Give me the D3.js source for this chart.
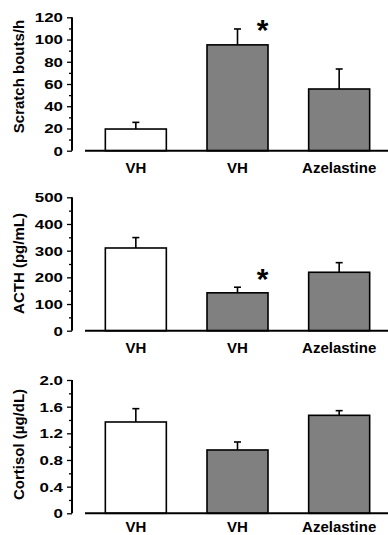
<!DOCTYPE html>
<html>
<head>
<meta charset="utf-8">
<script src="https://cdn.jsdelivr.net/npm/d3@7"></script>
<style>
  html, body { margin: 0; padding: 0; background: #fff; }
  svg { display: block; font-family: "Liberation Sans", Arial, Helvetica, sans-serif; font-weight: bold; }
</style>
</head>
<body>
<svg id="chart" width="388" height="535"></svg>
<script>
// ---- data ----
const categories = ["VH", "VH", "Azelastine"];
const barFills = ["#ffffff", "#808080", "#808080"];

const scratchMean = [19.5, 95.2, 55.5];
const scratchSEM  = [6.0, 14.3, 18.0];
const scratchTicks = [0, 20, 40, 60, 80, 100, 120];
const scratchMinor = [10, 30, 50, 70, 90, 110];

const acthMean = [310, 142, 219];
const acthSEM  = [39, 21, 36];
const acthTicks = [0, 100, 200, 300, 400, 500];
const acthMinor = [50, 150, 250, 350, 450];

const cortisolMean = [1.37, 0.95, 1.47];
const cortisolSEM  = [0.20, 0.12, 0.07];
const cortisolTicks = [0, 0.4, 0.8, 1.2, 1.6, 2.0];
const cortisolTickLabels = ["0", "0.4", "0.8", "1.2", "1.6", "2.0"];
const cortisolMinor = [0.2, 0.6, 1.0, 1.4, 1.8];

const scratchTitle = "Scratch bouts/h";
const acthTitle = "ACTH (pg/mL)";
const cortisolTitle = "Cortisol (\u00b5g/dL)";

const scratchSig = [false, true, false];
const acthSig = [false, true, false];
const cortisolSig = [false, false, false];

// ---- layout ----
const svg = d3.select("#chart");
const axisX = 72;

const panels = [
  { mean: scratchMean, sem: scratchSEM, ticks: scratchTicks, labels: scratchTicks.map(String), minor: scratchMinor,
    max: 120, top: 17.3, bottom: 150.7, title: scratchTitle, titleY: 76.5, sig: scratchSig, starY: 39.5, labelDy: 22.6 },
  { mean: acthMean, sem: acthSEM, ticks: acthTicks, labels: acthTicks.map(String), minor: acthMinor,
    max: 500, top: 197.3, bottom: 330.7, title: acthTitle, titleY: 263.5, sig: acthSig, starY: 289, labelDy: 22.6 },
  { mean: cortisolMean, sem: cortisolSEM, ticks: cortisolTicks, labels: cortisolTickLabels, minor: cortisolMinor,
    max: 2.0, top: 380, bottom: 513.3, title: cortisolTitle, titleY: 444.5, sig: cortisolSig, starY: 0, labelDy: 18.5 }
];

const x = d3.scaleBand().domain(d3.range(categories.length)).range([85, 390])
  .paddingInner(0.4).paddingOuter(0.2);

panels.forEach(p => {
  const y = d3.scaleLinear().domain([0, p.max]).range([p.bottom, p.top]);
  const g = svg.append("g");

  // y axis major ticks
  const yAxis = d3.axisLeft(y).tickValues(p.ticks)
    .tickFormat((d, i) => p.labels[i]).tickSize(5).tickPadding(4);
  const ga = g.append("g").attr("transform", `translate(${axisX},0)`).call(yAxis);
  ga.select(".domain").attr("stroke", "#000").attr("stroke-width", 2)
    .attr("d", `M0,${p.top}V${p.bottom}`);
  ga.selectAll(".tick line").attr("stroke", "#000").attr("stroke-width", 1.3);
  ga.selectAll(".tick text")
    .attr("x", 0).attr("dy", null)
    .attr("transform", "translate(-9,4.4) scale(1.3,1)")
    .attr("font-size", 13)
    .attr("font-weight", "bold")
    .attr("font-family", "Liberation Sans, Arial, sans-serif")
    .attr("fill", "#000");

  // minor ticks
  const gm = g.append("g").attr("transform", `translate(${axisX},0)`)
    .call(d3.axisLeft(y).tickValues(p.minor).tickSize(3).tickFormat(""));
  gm.select(".domain").remove();
  gm.selectAll(".tick line").attr("stroke", "#000").attr("stroke-width", 1.3);

  // bars
  g.selectAll("rect.bar").data(p.mean).join("rect")
    .attr("class", "bar")
    .attr("x", (d, i) => x(i))
    .attr("width", x.bandwidth())
    .attr("y", d => y(d))
    .attr("height", d => y(0) - y(d))
    .attr("fill", (d, i) => barFills[i])
    .attr("stroke", "#000").attr("stroke-width", 1.6);

  // error bars
  const capW = 3.5;
  p.mean.forEach((m, i) => {
    const cx = x(i) + x.bandwidth() / 2;
    g.append("line").attr("x1", cx).attr("x2", cx)
      .attr("y1", y(m)).attr("y2", y(m + p.sem[i]))
      .attr("stroke", "#000").attr("stroke-width", 1.6);
    g.append("line").attr("x1", cx - capW).attr("x2", cx + capW)
      .attr("y1", y(m + p.sem[i])).attr("y2", y(m + p.sem[i]))
      .attr("stroke", "#000").attr("stroke-width", 1.6);
  });

  // x axis baseline
  g.append("line").attr("x1", 85).attr("x2", 388)
    .attr("y1", y(0)).attr("y2", y(0))
    .attr("stroke", "#000").attr("stroke-width", 2);

  // x labels
  g.selectAll("text.xl").data(categories).join("text")
    .attr("class", "xl")
    .attr("x", (d, i) => x(i) + x.bandwidth() / 2)
    .attr("y", y(0) + p.labelDy)
    .attr("text-anchor", "middle")
    .attr("font-size", 15)
    .attr("fill", "#000")
    .text(d => d);

  // significance stars
  p.sig.forEach((s, i) => {
    if (!s) return;
    const cx = x(i) + x.bandwidth() / 2;
    g.append("text")
      .attr("x", cx + 25)
      .attr("y", p.starY)
      .attr("text-anchor", "middle")
      .attr("font-size", 30)
      .attr("fill", "#000")
      .text("*");
  });

  // y title
  g.append("text")
    .attr("transform", `translate(23.5,${p.titleY}) rotate(-90)`)
    .attr("text-anchor", "middle")
    .attr("font-size", 15)
    .attr("fill", "#000")
    .text(p.title);
});
</script>
</body>
</html>
